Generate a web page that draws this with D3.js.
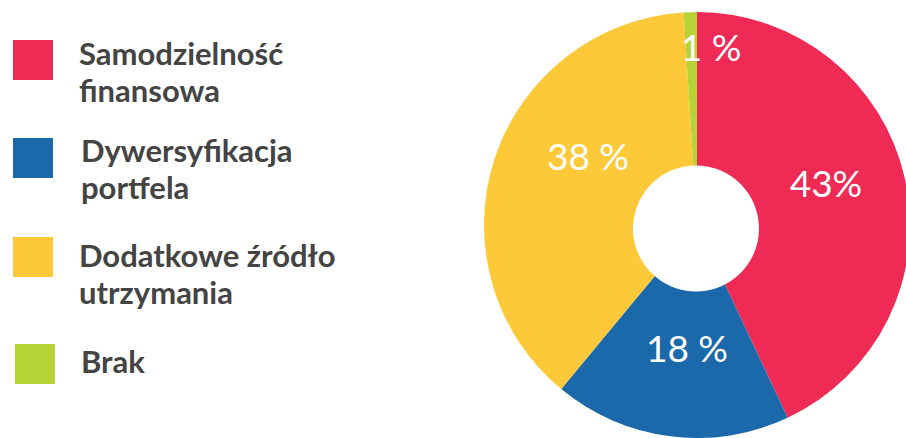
<!DOCTYPE html>
<html><head><meta charset="utf-8">
<script src="https://cdn.jsdelivr.net/npm/d3@7"></script>
<style>html,body{margin:0;padding:0;background:#fff;overflow:hidden}</style>
</head><body>
<svg id="chart" width="906" height="438"></svg>
<script>
const categories = ["Samodzielność finansowa", "Dywersyfikacja portfela", "Dodatkowe źródło utrzymania", "Brak"];
const legendLines = [["Samodzielność", "finansowa"], ["Dywersyfikacja", "portfela"], ["Dodatkowe źródło", "utrzymania"], ["Brak"]];
const values = [43, 18, 38, 1];
const valueLabels = ["43%", "18 %", "38 %", "1 %"];
const colors = ["#ee2a55", "#1b69ab", "#fec938", "#b5d334"];

const svg = d3.select("#chart");
const cx = 697, cy = 225, R = 213;

const pie = d3.pie().sort(null).value(d => d)(values);
const arc = d3.arc().innerRadius(0).outerRadius(R);
const g = svg.append("g").attr("transform", `translate(${cx},${cy})`);
g.selectAll("path").data(pie).join("path")
  .attr("d", arc).attr("fill", (d, i) => colors[i]);
// hole
svg.append("circle").attr("cx", 696).attr("cy", 228.5).attr("r", 63).attr("fill", "#fff");

// value labels
const labelPos = [[826, 197], [687, 362], [588, 170], [711, 61]];
svg.selectAll("text.val").data(valueLabels).join("text")
  .attr("class", "val")
  .attr("x", (d, i) => labelPos[i][0]).attr("y", (d, i) => labelPos[i][1])
  .attr("text-anchor", "middle")
  .attr("font-family", "Lato, 'Open Sans', sans-serif")
  .attr("font-weight", 400)
  .attr("font-size", 37)
  .attr("fill", "#fff")
  .text(d => d);

// legend
const sq = [[13, 40], [13, 138], [13, 237], [15, 344]];
const tx = [[79, 65], [81, 162], [79, 267], [81, 373]];
const leg = svg.selectAll("g.leg").data(categories).join("g").attr("class", "leg");
leg.append("rect")
  .attr("x", (d, i) => sq[i][0]).attr("y", (d, i) => sq[i][1])
  .attr("width", 40).attr("height", 40)
  .attr("fill", (d, i) => colors[i]);
leg.each(function(d, i) {
  const t = d3.select(this).append("text")
    .attr("x", tx[i][0]).attr("y", tx[i][1])
    .attr("font-family", "Lato, 'Open Sans', sans-serif")
    .attr("font-weight", 700)
    .attr("font-size", 31)
    .attr("fill", "#444");
  legendLines[i].forEach((line, j) => {
    t.append("tspan").attr("x", tx[i][0]).attr("dy", j === 0 ? 0 : 37).text(line);
  });
});
</script>
</body></html>
